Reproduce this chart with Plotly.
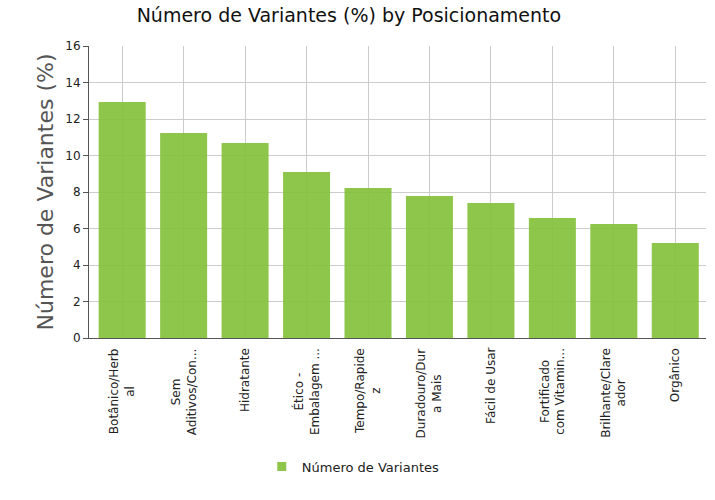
import plotly.graph_objects as go

categories = ["Botânico/Herb<br>al", "Sem<br>Aditivos/Con...", "Hidratante", "Ético -<br>Embalagem ...",
              "Tempo/Rapide<br>z", "Duradouro/Dur<br>a Mais", "Fácil de Usar", "Fortificado<br>com Vitamin...",
              "Brilhante/Clare<br>ador", "Orgânico"]
values = [12.93, 11.23, 10.68, 9.10, 8.22, 7.78, 7.40, 6.58, 6.25, 5.21]
series_name = "Número de Variantes"
bar_color = "rgba(132,192,60,0.92)"

fig = go.Figure()
fig.add_trace(go.Bar(x=categories, y=values, name=series_name, width=0.765,
                     marker=dict(color=bar_color, line=dict(width=0)),
                     showlegend=False))
fig.add_trace(go.Scatter(x=[categories[0]], y=[None], mode="markers", name=series_name,
                         marker=dict(symbol="square", size=9, color=bar_color),
                         showlegend=True, hoverinfo="skip"))

# category labels, rotated, lines centred (as in the reference)
for cat in categories:
    fig.add_annotation(x=cat, y=0, xref="x", yref="y", text=cat, showarrow=False,
                       textangle=-90, align="center", xanchor="center", yanchor="top",
                       yshift=-8, font=dict(family="DejaVu Sans", size=12, color="#222"))

fig.update_layout(
    width=715, height=500,
    margin=dict(l=89, r=9, t=46, b=162, autoexpand=False),
    paper_bgcolor="white", plot_bgcolor="white",
    font=dict(family="DejaVu Sans", size=12, color="#222"),
    title=dict(text="Número de Variantes (%) by Posicionamento", x=0.488, xanchor="center",
               y=0.97, yanchor="middle", font=dict(size=19, color="#111")),
    xaxis=dict(type="category", tickangle=-90, showgrid=True, gridcolor="#cccccc", showline=True,
               linecolor="#555", range=[-0.54, 9.5], ticks="", showticklabels=False,
               automargin=False),
    yaxis=dict(range=[0, 16], dtick=2, showgrid=True, gridcolor="#cccccc", showline=True, linecolor="#555",
               ticks="outside", ticklen=5, tickcolor="#555", tickfont=dict(size=12, color="#222"),
               automargin=False,
               title=dict(text="Número de Variantes (%)", font=dict(size=22, color="#555"), standoff=5)),
    legend=dict(orientation="h", x=0.28, xanchor="left", y=-0.44, yanchor="middle",
                font=dict(size=13, color="#222")),
)
fig.write_html("out.html")
